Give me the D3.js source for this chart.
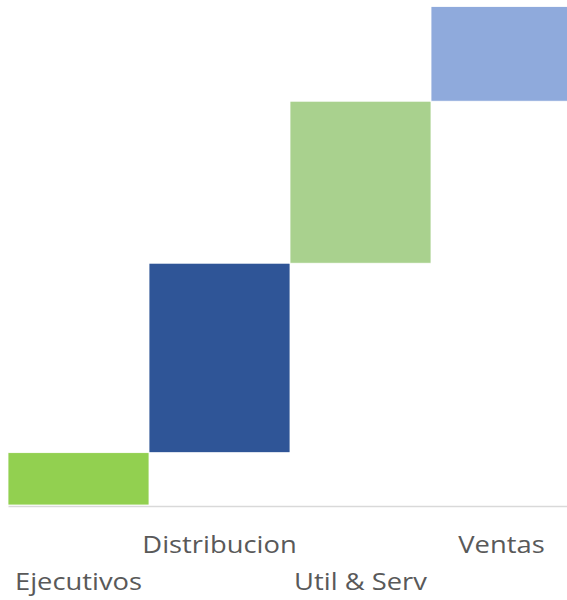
<!DOCTYPE html>
<html>
<head>
<meta charset="utf-8">
<script src="https://cdn.jsdelivr.net/npm/d3@7"></script>
<style>
  body { margin: 0; background: #fff; }
  svg { display: block; }
</style>
</head>
<body>
<div id="chart"></div>
<script>
// waterfall data (share of total)
var categories = ["Ejecutivos", "Distribucion", "Util & Serv", "Ventas"];
var values = [10.5, 38, 32.5, 19];
var colors = ["#92D050", "#2F5597", "#A9D18E", "#8FAADC"];

var width = 567, height = 600;
var margin = { top: 6.5, right: -5, bottom: 95, left: 8 };

var svg = d3.select("#chart").append("svg")
    .attr("width", width)
    .attr("height", height);

// running totals for the floating bars
var data = [];
var run = 0;
values.forEach(function (v, i) {
    data.push({ group: categories[i], start: run, end: run + v, color: colors[i] });
    run += v;
});

var x = d3.scaleBand()
    .domain(categories)
    .range([margin.left, width - margin.right])
    .padding(0);

var y = d3.scaleLinear()
    .domain([0, d3.sum(values)])
    .range([height - margin.bottom, margin.top]);

svg.selectAll("rect")
    .data(data)
    .enter()
    .append("rect")
    .attr("x", function (d) { return x(d.group); })
    .attr("y", function (d) { return y(d.end); })
    .attr("width", x.bandwidth())
    .attr("height", function (d) { return y(d.start) - y(d.end); })
    .attr("fill", function (d) { return d.color; })
    .attr("stroke", "#fff")
    .attr("stroke-width", 0.8);

// category axis
var xAxis = svg.append("g")
    .attr("transform", "translate(0," + (y(0) + 1) + ")")
    .call(d3.axisBottom(x).tickSize(0).tickPadding(0));

xAxis.select(".domain")
    .attr("stroke", "#D9D9D9")
    .attr("stroke-width", 1.5);

// labels alternate between two rows, slightly widened like the original
xAxis.selectAll(".tick text")
    .attr("font-family", "'Open Sans', sans-serif")
    .attr("font-size", 24)
    .attr("fill", "#595959")
    .attr("dy", null)
    .attr("y", function (d, i) { return i % 2 === 0 ? 84 : 47; })
    .attr("transform", "scale(1.14,1)");
</script>
</body>
</html>
